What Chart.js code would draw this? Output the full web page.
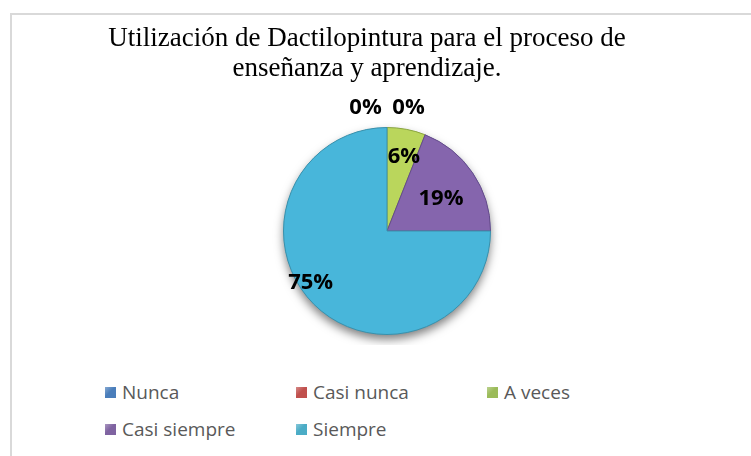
<!DOCTYPE html>
<html>
<head>
<meta charset="utf-8">
<script src="https://cdn.jsdelivr.net/npm/chart.js@4.4.0/dist/chart.umd.min.js"></script>
<style>
  body { margin: 0; background: #fff; width: 751px; height: 456px; overflow: hidden; position: relative; }
  #frame { position: absolute; left: 10px; top: 13px; width: 780px; height: 480px; border: 2px solid #d9d9d9; box-sizing: border-box; }
  #title { position: absolute; left: 10px; top: 22px; width: 714px; text-align: center; font-family: "Liberation Serif", "Times New Roman", serif; font-size: 27px; line-height: 30px; color: #000; }
  #wrap { position: absolute; left: 10px; top: 13px; width: 714px; height: 332px; }
  #legend { position: absolute; left: 105px; top: 379px; width: 600px; font-family: "Open Sans", sans-serif; font-size: 19px; color: #595959; }
  #legend .item { position: absolute; display: flex; align-items: center; white-space: nowrap; height: 26px; }
  #legend .box { width: 11px; height: 11px; margin-right: 6px; }
</style>
</head>
<body>
<div id="frame"></div>
<div id="wrap"><canvas id="myChart"></canvas></div>
<div id="title"></div>
<div id="legend"></div>
<script>
const categories = ["Nunca", "Casi nunca", "A veces", "Casi siempre", "Siempre"];
const percents = [0, 0, 6, 19, 75];
const titleLines = ["Utilización de Dactilopintura para el proceso de", "enseñanza y aprendizaje."];

const sliceColors = ['#4f81bd', '#c0504d', '#bad65c', '#8565ad', '#48b6da'];
const sliceBorders = ['#3a6594', '#9a3b39', '#8ea63f', '#654b8a', '#3a90ab'];
const legendColors = ['#4a7ebb', '#c0504d', '#9bbb59', '#7f63a1', '#4bacc6'];

// titulo (centrado sobre todo el grafico, no sobre el pastel)
const titleEl = document.getElementById('title');
titleLines.forEach(line => {
    const d = document.createElement('div');
    d.textContent = line;
    titleEl.appendChild(d);
});

// sombra debajo del pastel
const pieShadow = {
    id: 'pieShadow',
    beforeDatasetsDraw: (chart) => {
        const arc = chart.getDatasetMeta(0).data[0];
        if (!arc) return;
        const {x, y, outerRadius} = arc.getProps(['x', 'y', 'outerRadius'], true);
        const ctx = chart.ctx;
        ctx.save();
        ctx.shadowColor = 'rgba(0,0,0,0.5)';
        ctx.shadowBlur = 10;
        ctx.shadowOffsetY = 5;
        ctx.beginPath();
        ctx.arc(x, y, outerRadius, 0, Math.PI * 2);
        ctx.fillStyle = '#48b6da';
        ctx.fill();
        ctx.restore();
    }
};

// etiquetas de porcentaje
const pctLabels = {
    id: 'pctLabels',
    afterDatasetsDraw: (chart, args, opts) => {
        const ctx = chart.ctx;
        const meta = chart.getDatasetMeta(0);
        const values = chart.data.datasets[0].data;
        const zeros = values.map((v, i) => v === 0 ? i : -1).filter(i => i >= 0);
        ctx.save();
        ctx.font = 'bold 22px "Open Sans", sans-serif';
        ctx.fillStyle = '#000';
        ctx.textAlign = 'center';
        ctx.textBaseline = 'middle';
        meta.data.forEach((arc, i) => {
            const {x, y, startAngle, endAngle, outerRadius} = arc.getProps(['x', 'y', 'startAngle', 'endAngle', 'outerRadius'], true);
            let lx, ly;
            if (values[i] === 0) {
                const k = zeros.indexOf(i);
                lx = x + (k - (zeros.length - 1) / 2) * opts.zeroGap;
                ly = y - outerRadius - opts.zeroLift;
            } else {
                const mid = (startAngle + endAngle) / 2 + (opts.shift[i] || 0) * Math.PI / 180;
                const r = outerRadius * opts.radius[i];
                lx = x + Math.cos(mid) * r;
                ly = y + Math.sin(mid) * r;
            }
            ctx.fillText(values[i] + '%', lx, ly);
        });
        ctx.restore();
    }
};

const data = {
    labels: categories,
    datasets: [{
        data: percents,
        backgroundColor: sliceColors,
        borderColor: sliceBorders,
        borderWidth: 1
    }]
};

const config = {
    type: 'pie',
    data,
    options: {
        responsive: true,
        maintainAspectRatio: false,
        animation: false,
        layout: { padding: { top: 114, left: 40, bottom: 10 } },
        plugins: {
            legend: { display: false },
            tooltip: { enabled: false },
            title: { display: false },
            pctLabels: {
                zeroGap: 43,
                zeroLift: 20,
                radius: [0, 0, 0.74, 0.61, 0.89],
                shift: [0, 0, 2, 3, 11]
            }
        }
    },
    plugins: [pieShadow, pctLabels]
};

const myChart = new Chart(document.getElementById('myChart'), config);

// leyenda en cuadrícula (3 columnas)
const legendEl = document.getElementById('legend');
categories.forEach((name, i) => {
    const item = document.createElement('div');
    item.className = 'item';
    item.style.left = (i % 3) * 191 + 'px';
    item.style.top = Math.floor(i / 3) * 37 + 'px';
    const box = document.createElement('span');
    box.className = 'box';
    box.style.background = 'linear-gradient(135deg, #ffffff55, ' + legendColors[i] + ' 45%)';
    box.style.backgroundColor = legendColors[i];
    const txt = document.createElement('span');
    txt.textContent = name;
    item.appendChild(box);
    item.appendChild(txt);
    legendEl.appendChild(item);
});
</script>
</body>
</html>
